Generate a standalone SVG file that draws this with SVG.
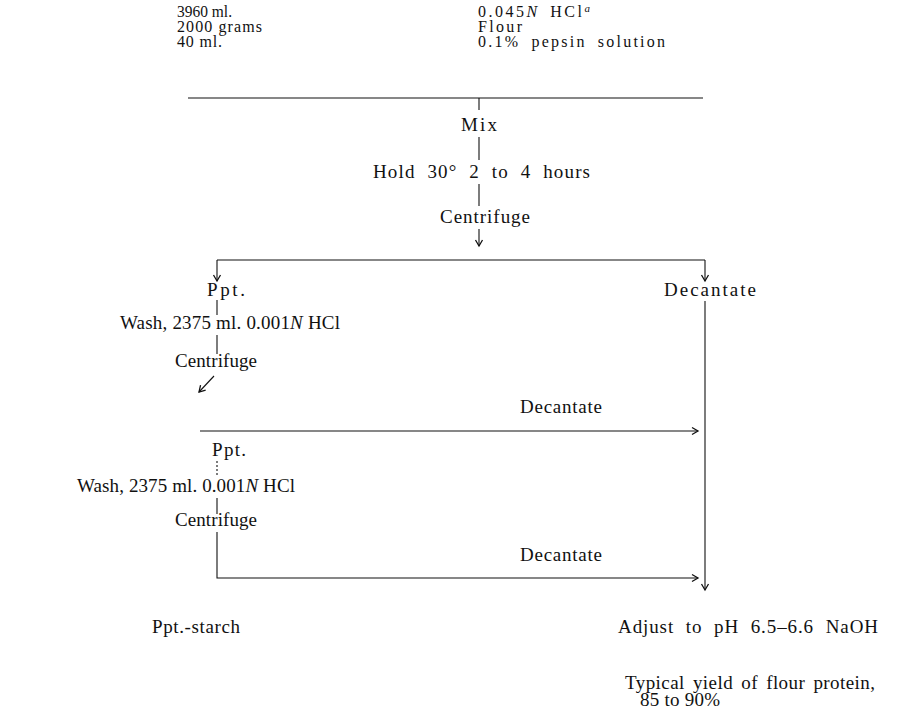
<svg xmlns="http://www.w3.org/2000/svg" width="905" height="717" viewBox="0 0 905 717">
<defs>
<style>
text{font-family:"Liberation Serif","DejaVu Serif",serif;font-size:19px;fill:#111}
.top{font-size:16px}
.it{font-style:italic}
.sup{font-size:11px;font-style:italic}
.ln{stroke:#111;stroke-width:1.1;fill:none}
</style>
<marker id="ah" markerWidth="10" markerHeight="10" refX="8" refY="5" orient="auto" markerUnits="userSpaceOnUse">
<path d="M2,1.5 L8,5 L2,8.5" fill="none" stroke="#111" stroke-width="1.3"/>
</marker>
</defs>
<rect width="905" height="717" fill="#fff"/>
<g id="ingredients">
<text class="top" x="177" y="17" textLength="55" lengthAdjust="spacingAndGlyphs">3960 ml.</text>
<text class="top" x="177" y="32" textLength="85" lengthAdjust="spacing">2000 grams</text>
<text class="top" x="177" y="47" textLength="45" lengthAdjust="spacing">40 ml.</text>
<text class="top" x="478" y="17" textLength="112" lengthAdjust="spacing" word-spacing="4">0.045<tspan class="it">N</tspan> HCl<tspan class="sup" dy="-5">a</tspan></text>
<text class="top" x="478" y="32" textLength="44" lengthAdjust="spacing">Flour</text>
<text class="top" x="478" y="47" textLength="187" lengthAdjust="spacing" word-spacing="5">0.1% pepsin solution</text>
</g>
<g id="mix"><text x="461" y="131" textLength="36" lengthAdjust="spacing">Mix</text></g>
<g id="hold"><text x="373" y="178" textLength="217" lengthAdjust="spacing" word-spacing="6">Hold 30° 2 to 4 hours</text></g>
<g id="centrifuge1"><text x="440" y="223" textLength="90" lengthAdjust="spacing">Centrifuge</text></g>
<g id="ppt1"><text x="207" y="296" textLength="38" lengthAdjust="spacing">Ppt.</text></g>
<g id="decantate1"><text x="664" y="296" textLength="92" lengthAdjust="spacing">Decantate</text></g>
<g id="wash1"><text x="120" y="329" textLength="220" lengthAdjust="spacing">Wash, 2375 ml. 0.001<tspan class="it">N</tspan> HCl</text></g>
<g id="centrifuge2"><text x="175" y="367" textLength="82" lengthAdjust="spacing">Centrifuge</text></g>
<g id="decantate2"><text x="520" y="413" textLength="82" lengthAdjust="spacing">Decantate</text></g>
<g id="ppt2"><text x="212" y="456" textLength="34" lengthAdjust="spacing">Ppt.</text></g>
<g id="wash2"><text x="77" y="492" textLength="218" lengthAdjust="spacing">Wash, 2375 ml. 0.001<tspan class="it">N</tspan> HCl</text></g>
<g id="centrifuge3"><text x="175" y="526" textLength="82" lengthAdjust="spacing">Centrifuge</text></g>
<g id="decantate3"><text x="520" y="561" textLength="82" lengthAdjust="spacing">Decantate</text></g>
<g id="starch"><text x="152" y="633" textLength="88" lengthAdjust="spacing">Ppt.-starch</text></g>
<g id="adjust"><text x="618" y="633" textLength="260" lengthAdjust="spacing" word-spacing="6">Adjust to pH 6.5–6.6 NaOH</text></g>
<g id="yield">
<text x="625" y="689" textLength="250" lengthAdjust="spacing" word-spacing="3">Typical yield of flour protein,</text>
<text x="640" y="706" textLength="80" lengthAdjust="spacing">85 to 90%</text>
</g>
<g id="connectors" class="ln">
<line class="ln" x1="188" y1="98" x2="703" y2="98"/>
<line class="ln" x1="479" y1="98" x2="479" y2="110"/>
<line class="ln" x1="479" y1="137" x2="479" y2="160"/>
<line class="ln" x1="479" y1="184" x2="479" y2="206"/>
<line class="ln" x1="479" y1="229" x2="479" y2="246" marker-end="url(#ah)"/>
<line class="ln" x1="217" y1="260" x2="705" y2="260"/>
<line class="ln" x1="217" y1="260" x2="217" y2="281" marker-end="url(#ah)"/>
<line class="ln" x1="705" y1="260" x2="705" y2="281" marker-end="url(#ah)"/>
<line class="ln" x1="217" y1="300" x2="217" y2="315"/>
<line class="ln" x1="217" y1="335" x2="217" y2="354"/>
<line class="ln" x1="214" y1="376" x2="199" y2="392" marker-end="url(#ah)"/>
<line class="ln" x1="200" y1="431" x2="698" y2="431" marker-end="url(#ah)"/>
<line class="ln" x1="217" y1="461" x2="217" y2="475" stroke-dasharray="2 2"/>
<line class="ln" x1="217" y1="498" x2="217" y2="514"/>
<polyline class="ln" points="217,532 217,578 698,578" marker-end="url(#ah)"/>
<line class="ln" x1="705" y1="301" x2="705" y2="590" marker-end="url(#ah)"/>
</g>
</svg>
